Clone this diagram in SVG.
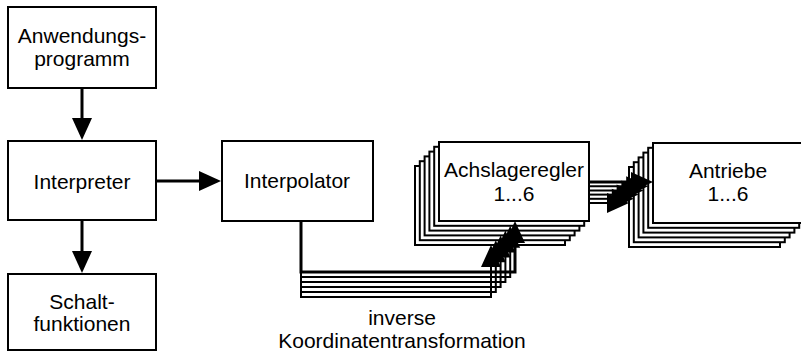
<svg xmlns="http://www.w3.org/2000/svg" xmlns:xlink="http://www.w3.org/1999/xlink" width="801" height="352" viewBox="0 0 801 352">
  <style>
    .box { fill: #fff; stroke: #000; stroke-width: 2; }
    .lbl { font-family: "Liberation Sans", Arial, sans-serif; font-size: 21px; fill: #000; text-anchor: middle; }
    .wire { fill: none; stroke: #000; stroke-width: 3; }
    .wire2 { fill: none; stroke: #000; stroke-width: 2; }
    .head { fill: #000; stroke: none; }
  </style>
  <defs>
    <!-- arrowhead pointing right, tip at origin -->
    <path id="ah" class="head" d="M0,0 L-22,-10 L-22,10 Z"/>
  </defs>

  <rect width="801" height="352" fill="#fff"/>

  <g id="anwendungsprogramm">
    <rect class="box" x="8" y="7" width="148" height="81"/>
    <text class="lbl" x="82" y="43">Anwendungs-</text>
    <text class="lbl" x="82" y="66">programm</text>
  </g>

  <g id="interpreter">
    <rect class="box" x="8" y="141" width="148" height="79"/>
    <text class="lbl" x="82" y="189">Interpreter</text>
  </g>

  <g id="schaltfunktionen">
    <rect class="box" x="8" y="274" width="148" height="76"/>
    <text class="lbl" x="82" y="309">Schalt-</text>
    <text class="lbl" x="82" y="331">funktionen</text>
  </g>

  <g id="interpolator">
    <rect class="box" x="222" y="141" width="151" height="80"/>
    <text class="lbl" x="297" y="188">Interpolator</text>
  </g>

  <!-- stack of six axis controllers, back to front -->
  <g id="achslageregler">
    <rect class="box" x="415" y="166" width="150" height="79"/>
    <rect class="box" x="419.8" y="161.2" width="150" height="79"/>
    <rect class="box" x="424.6" y="156.4" width="150" height="79"/>
    <rect class="box" x="429.4" y="151.6" width="150" height="79"/>
    <rect class="box" x="434.2" y="146.8" width="150" height="79"/>
    <rect class="box" x="439" y="142" width="150" height="79"/>
    <text class="lbl" x="514" y="177">Achslageregler</text>
    <text class="lbl" x="514" y="201">1...6</text>
  </g>

  <!-- stack of six drives, back to front -->
  <g id="antriebe">
    <rect class="box" x="629" y="167" width="151" height="80"/>
    <rect class="box" x="633.8" y="162.2" width="151" height="80"/>
    <rect class="box" x="638.6" y="157.4" width="151" height="80"/>
    <rect class="box" x="643.4" y="152.6" width="151" height="80"/>
    <rect class="box" x="648.2" y="147.8" width="151" height="80"/>
    <rect class="box" x="653" y="143" width="151" height="80"/>
    <text class="lbl" x="728" y="178">Antriebe</text>
    <text class="lbl" x="728" y="201">1...6</text>
  </g>

  <g id="connectors">
    <!-- program to interpreter -->
    <line class="wire" x1="82" y1="88" x2="82" y2="120"/>
    <use xlink:href="#ah" transform="translate(82,140) rotate(90)"/>
    <!-- interpreter to switching functions -->
    <line class="wire" x1="82" y1="220" x2="82" y2="253"/>
    <use xlink:href="#ah" transform="translate(82,273) rotate(90)"/>
    <!-- interpreter to interpolator -->
    <line class="wire" x1="156" y1="181" x2="200" y2="181"/>
    <use xlink:href="#ah" transform="translate(221,181)"/>

    <!-- interpolator to the six axis controllers -->
    <path class="wire2" d="M301,272 V297 H491 V266"/>
    <path class="wire2" d="M301,292 H495.8 V261.2"/>
    <path class="wire2" d="M301,287 H500.6 V256.4"/>
    <path class="wire2" d="M301,282 H505.4 V251.6"/>
    <path class="wire2" d="M301,277 H510.2 V246.8"/>
    <path class="wire" d="M301,221 V272 H515 V242"/>
    <use xlink:href="#ah" transform="translate(491,245) rotate(-90)"/>
    <use xlink:href="#ah" transform="translate(495.8,240.2) rotate(-90)"/>
    <use xlink:href="#ah" transform="translate(500.6,235.4) rotate(-90)"/>
    <use xlink:href="#ah" transform="translate(505.4,230.6) rotate(-90)"/>
    <use xlink:href="#ah" transform="translate(510.2,225.8) rotate(-90)"/>
    <use xlink:href="#ah" transform="translate(515,221) rotate(-90)"/>

    <!-- axis controllers to drives -->
    <line class="wire2" x1="590" y1="203" x2="610" y2="203"/>
    <line class="wire2" x1="590" y1="198.8" x2="614.8" y2="198.8"/>
    <line class="wire2" x1="590" y1="194.6" x2="619.6" y2="194.6"/>
    <line class="wire2" x1="590" y1="190.4" x2="624.4" y2="190.4"/>
    <line class="wire2" x1="590" y1="186.2" x2="629.2" y2="186.2"/>
    <line class="wire" x1="590" y1="182" x2="634" y2="182"/>
    <use xlink:href="#ah" transform="translate(629,203)"/>
    <use xlink:href="#ah" transform="translate(633.8,198.8)"/>
    <use xlink:href="#ah" transform="translate(638.6,194.6)"/>
    <use xlink:href="#ah" transform="translate(643.4,190.4)"/>
    <use xlink:href="#ah" transform="translate(648.2,186.2)"/>
    <use xlink:href="#ah" transform="translate(653,182)"/>
  </g>

  <g id="transformation-label">
    <text class="lbl" x="402" y="325">inverse</text>
    <text class="lbl" x="402" y="348">Koordinatentransformation</text>
  </g>
</svg>
